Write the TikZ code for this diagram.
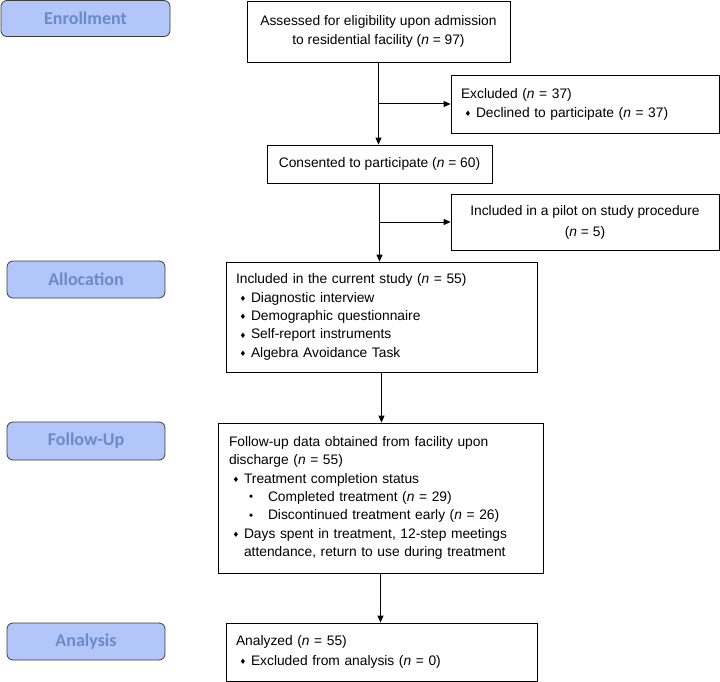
\documentclass[tikz,border=0pt]{standalone}
\usepackage{fontspec}
\setmainfont{Liberation Sans}
\newfontfamily\stagefont{Carlito}
\newfontfamily\symfont{DejaVu Sans}
\usetikzlibrary{arrows.meta}

\definecolor{stagefill}{RGB}{179,198,250}
\definecolor{stagetext}{RGB}{108,138,199}
\definecolor{stageline}{RGB}{60,60,60}

% bullets used inside the boxes
\newcommand{\dia}{{\symfont\fontsize{7.5}{7.5}\selectfont\raisebox{0.6pt}{♦}}}
\newcommand{\itm}[1]{\makebox[15pt][l]{\hspace{3.5pt}\dia}#1}
\newcommand{\subitm}[1]{\hspace*{20pt}\makebox[19pt][l]{\raisebox{0.6pt}{\fontsize{11.5}{11.5}\selectfont\textbullet}}#1}

\begin{document}
\begin{tikzpicture}[x=1pt, y=-1pt,
  stage/.style={draw=stageline, fill=stagefill, rounded corners=6pt, line width=0.8pt,
    font=\stagefont\bfseries\fontsize{18}{18}\selectfont, text=stagetext,
    minimum width=158pt, minimum height=37pt, inner sep=0pt},
  box/.style={draw, line width=0.8pt, align=center, inner sep=0pt,
    font=\fontsize{13.8}{19}\selectfont},
  lbox/.style={box, align=left, inner xsep=10pt},
  arr/.style={-{Triangle[length=7pt, width=6pt]}, line width=1pt}]
\useasboundingbox (0,0) rectangle (720,682);
% ---------- stage labels on the left ----------
\node[stage, minimum width=169pt, minimum height=36pt] (enroll) at (85.5,18.5) {Enrollment};
\node[stage] (alloc) at (86,279.5) {Allocation};
\node[stage, minimum height=38pt] (follow) at (86,441) {Follow-Up};
\node[stage] (analysis) at (86,641.5) {Analysis};
% ---------- flow boxes ----------
\node[box, minimum width=263pt, minimum height=61pt] (assess) at (378.5,31.5)
  {Assessed for eligibility upon admission\\to residential facility (\textit{n} = 97)};
\node[lbox, text width=248pt, minimum height=58pt] (excl) at (585,104)
  {Excluded (\textit{n} = 37)\\\itm{Declined to participate (\textit{n} = 37)}};
\node[box, minimum width=225pt, minimum height=38pt] (consent) at (379.5,164)
  {Consented to participate (\textit{n} = 60)};
\node[box, minimum width=268pt, minimum height=56pt, font=\fontsize{13.8}{21}\selectfont] (pilot) at (585,222)
  {Included in a pilot on study procedure\\(\textit{n} = 5)};
\node[lbox, text width=291pt, minimum height=110pt, font=\fontsize{13.8}{18.4}\selectfont] (incl) at (381.5,317)
  {Included in the current study (\textit{n} = 55)\\
   \itm{Diagnostic interview}\\
   \itm{Demographic questionnaire}\\
   \itm{Self-report instruments}\\
   \itm{Algebra Avoidance Task}};
\node[lbox, inner xsep=11pt, text width=303pt, minimum height=150pt, font=\fontsize{13.8}{18.3}\selectfont] (fup) at (380.5,498)
  {Follow-up data obtained from facility upon\\
   discharge (\textit{n} = 55)\\
   \itm{Treatment completion status}\\
   \subitm{Completed treatment (\textit{n} = 29)}\\
   \subitm{Discontinued treatment early (\textit{n} = 26)}\\
   \itm{Days spent in treatment, 12-step meetings}\\
   \hspace*{15pt}attendance, return to use during treatment};
\node[lbox, text width=291pt, minimum height=58pt, font=\fontsize{13.8}{19.6}\selectfont] (anal) at (381.5,652)
  {Analyzed (\textit{n} = 55)\\\itm{Excluded from analysis (\textit{n} = 0)}};
% ---------- connectors ----------
\draw[arr] (assess.south) -- (assess.south |- consent.north);
\coordinate (b1) at (assess.south |- excl.west);
\draw[arr] (b1) -- (excl.west);
\draw[arr] (consent.south) -- (consent.south |- incl.north);
\coordinate (b2) at (consent.south |- pilot.west);
\draw[arr] (b2) -- (pilot.west);
\draw[arr] (incl.south) -- (incl.south |- fup.north);
\draw[arr] (fup.south) -- (fup.south |- anal.north);
\end{tikzpicture}
\end{document}
